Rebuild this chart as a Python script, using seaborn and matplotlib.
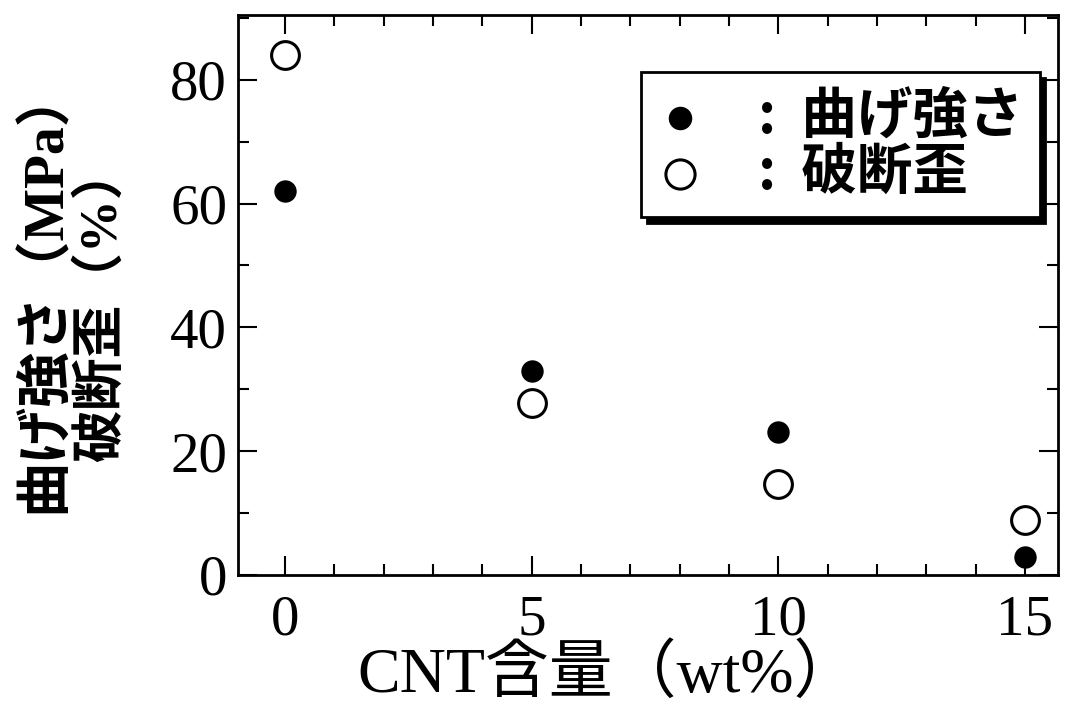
import matplotlib
matplotlib.use("Agg")
import matplotlib.pyplot as plt
from matplotlib.ticker import MultipleLocator
import pandas as pd
import seaborn as sns

# CNT含量 (wt%)
cnt = [0, 5, 10, 15]
# 曲げ強さ (MPa) - 黒丸
kyodo = [62, 33, 23, 2.8]
# 破断歪 (%) - 白丸
hizumi = [84, 27.7, 14.6, 8.8]

df = pd.DataFrame({"cnt": cnt, "kyodo": kyodo, "hizumi": hizumi})

sns.set_theme(style="ticks")
plt.rcParams["font.family"] = ["Liberation Serif", "Noto Sans CJK JP"]
plt.rcParams["text.color"] = "black"
plt.rcParams["axes.labelcolor"] = "black"
plt.rcParams["xtick.color"] = "black"
plt.rcParams["ytick.color"] = "black"
mixed = ["Liberation Serif", "Noto Sans CJK JP"]

fig = plt.figure(figsize=(10.73, 7.07), dpi=100)
ax = fig.add_axes([0.222, 0.187, 0.764, 0.792])

sns.scatterplot(data=df, x="cnt", y="kyodo", ax=ax, color="black",
                edgecolor="black", s=260, linewidth=0, label=":  曲げ強さ")
sns.scatterplot(data=df, x="cnt", y="hizumi", ax=ax, facecolor="white",
                edgecolor="black", s=400, linewidth=2.2, label=":  破断歪")

ax.set_xlim(-0.95, 15.67)
ax.set_ylim(0, 90.5)
ax.xaxis.set_major_locator(MultipleLocator(5))
ax.xaxis.set_minor_locator(MultipleLocator(1))
ax.yaxis.set_major_locator(MultipleLocator(20))
ax.yaxis.set_minor_locator(MultipleLocator(10))
ax.tick_params(which="both", direction="in", top=True, right=True,
               color="black", width=1.5)
ax.tick_params(which="major", length=14, labelsize=41, labelcolor="black")
ax.tick_params(which="minor", length=8)
ax.tick_params(axis="x", pad=14)
ax.tick_params(axis="y", pad=8)
for lab in ax.get_xticklabels() + ax.get_yticklabels():
    lab.set_family("Liberation Serif")
for sp in ax.spines.values():
    sp.set_linewidth(2)
    sp.set_color("black")

# 横軸ラベル
ax.set_xlabel("CNT含量（wt%）", family=mixed, fontsize=46)
ax.xaxis.label.set_va("center")
ax.xaxis.set_label_coords(0.45, -0.18)

# 縦軸ラベル (2行)
ax.set_ylabel("")
fig.text(0.042, 0.59, "曲げ強さ（MPa）", family=mixed, fontsize=40,
         fontweight="bold", rotation=90, ha="center", va="center")
fig.text(0.095, 0.57, "破断歪（%）", family=mixed, fontsize=38,
         fontweight="bold", rotation=90, ha="center", va="center")

leg = ax.legend(loc="upper right", bbox_to_anchor=(0.978, 0.898),
                prop={"family": ["Noto Sans CJK JP"], "size": 40, "weight": "bold"},
                frameon=True, fancybox=False, edgecolor="black",
                framealpha=1, handletextpad=1.0, borderpad=0.3,
                borderaxespad=0, labelspacing=0.0, handlelength=0.8,
                markerscale=1.05,
                shadow={"ox": 4, "oy": -4, "color": "black", "alpha": 1})
leg.get_frame().set_linewidth(2)

fig.savefig("out.png", dpi=100, facecolor="white")
